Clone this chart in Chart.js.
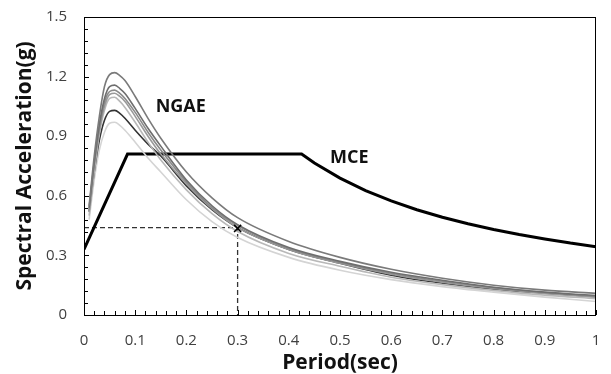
<!DOCTYPE html>
<html>
<head>
<meta charset="utf-8">
<script src="https://cdn.jsdelivr.net/npm/chart.js@4"></script>
<style>
body{margin:0;background:#fff}
#c{display:block}
</style>
</head>
<body>
<canvas id="c" width="611" height="374"></canvas>
<script>

// periods (sec) shared by the NGAE spectra
const periods=[0.01,0.02,0.03,0.04,0.05,0.06,0.07,0.08,0.1,0.125,0.15,0.2,0.25,0.3,0.4,0.5,0.6,0.7,0.8,0.9,1.0]

// NGAE spectra (g)
const ngae1=[0.55,0.80,1.00,1.15,1.21,1.22,1.205,1.18,1.10,0.99,0.89,0.72,0.59,0.49,0.37,0.29,0.23,0.185,0.15,0.125,0.109]
const ngae2=[0.54,0.77,0.96,1.09,1.15,1.157,1.14,1.115,1.04,0.94,0.85,0.68,0.55,0.455,0.34,0.27,0.215,0.175,0.14,0.115,0.098]
const ngae3=[0.53,0.76,0.94,1.07,1.125,1.132,1.115,1.09,1.02,0.92,0.83,0.67,0.54,0.45,0.335,0.265,0.21,0.17,0.138,0.113,0.095]
const ngae4=[0.52,0.75,0.93,1.05,1.11,1.116,1.10,1.075,1.0,0.90,0.81,0.66,0.535,0.44,0.33,0.26,0.205,0.165,0.133,0.108,0.09]
const ngae5=[0.50,0.72,0.91,1.03,1.09,1.096,1.075,1.045,0.97,0.87,0.78,0.63,0.51,0.42,0.31,0.245,0.19,0.153,0.124,0.1,0.082]
const ngae6=[0.52,0.72,0.88,0.98,1.025,1.03,1.015,0.99,0.93,0.86,0.80,0.65,0.53,0.44,0.33,0.26,0.20,0.16,0.13,0.11,0.092]
const ngae7=[0.48,0.68,0.83,0.92,0.965,0.97,0.955,0.93,0.87,0.79,0.72,0.58,0.47,0.39,0.29,0.225,0.178,0.143,0.115,0.09,0.068]

// MCE design spectrum
const mcePeriods=[0,0.085,0.425,0.45,0.5,0.55,0.6,0.65,0.7,0.75,0.8,0.85,0.9,0.95,1.0]
const mceValues=[0.33,0.81,0.81,0.765,0.689,0.626,0.574,0.53,0.492,0.459,0.43,0.405,0.383,0.362,0.344]

// target point at T=0.3 and its guide lines
const targetT=0.3
const targetSa=0.436
const guideX=[0,0.3,0.3]
const guideY=[0.44,0.44,0]

const xTicks=[0,0.1,0.2,0.3,0.4,0.5,0.6,0.7,0.8,0.9,1]
const yTicks=[0,0.3,0.6,0.9,1.2,1.5]

const ngaeSets=[ngae1,ngae2,ngae3,ngae4,ngae5,ngae6,ngae7]
const ngaeColors=["#7a7a7a","#6e6e6e","#8a8a8a","#9a9a9a","#b8b8b8","#333333","#d4d4d4"]

function pts(xs,ys){
return xs.map((x,i)=>({x:x,y:ys[i]}))
}

const datasets=[]

datasets.push({
data:[{x:targetT,y:targetSa}],
showLine:false,
pointStyle:"crossRot",
pointRadius:5,
borderColor:"#000",
borderWidth:1.5
})

ngaeSets.forEach((s,i)=>{
datasets.push({
data:pts(periods,s),
showLine:true,
borderColor:ngaeColors[i],
borderWidth:1.6,
pointRadius:0,
cubicInterpolationMode:"monotone"
})
})

datasets.push({
data:pts(mcePeriods,mceValues),
showLine:true,
borderColor:"#000",
borderWidth:3,
pointRadius:0,
tension:0
})

datasets.push({
data:pts(guideX,guideY),
showLine:true,
borderColor:"#333",
borderWidth:1.3,
borderDash:[5,3],
pointRadius:0,
tension:0
})

// frame, inward minor ticks and the two curve labels
const decor={
id:"decor",
afterDraw(chart){
const c=chart.ctx
const a=chart.chartArea
const xs=chart.scales.x
const ys=chart.scales.y
c.save()
c.strokeStyle="#000"
c.lineWidth=1
c.strokeRect(a.left+0.5,a.top+0.5,a.right-a.left-1,a.bottom-a.top)
c.beginPath()
for(let i=0;i<=50;i++){
const px=Math.round(xs.getPixelForValue(i*0.02))+0.5
const len=(i%5==0)?5:4
c.moveTo(px,a.bottom)
c.lineTo(px,a.bottom-len)
}
for(let i=0;i<=25;i++){
const py=Math.round(ys.getPixelForValue(i*0.06))+0.5
const len=(i%5==0)?5:4
c.moveTo(a.left,py)
c.lineTo(a.left+len,py)
}
c.stroke()
c.fillStyle="#111"
c.font="bold 18px 'Open Sans'"
c.textAlign="center"
c.textBaseline="middle"
c.fillText("NGAE",xs.getPixelForValue(0.189),ys.getPixelForValue(1.047))
c.fillText("MCE",xs.getPixelForValue(0.518),ys.getPixelForValue(0.79))
c.restore()
}
}

new Chart(document.getElementById("c"),{
type:"scatter",
data:{datasets:datasets},
options:{
responsive:false,
animation:false,
layout:{padding:{top:17,right:15,left:0,bottom:0}},
plugins:{legend:{display:false},tooltip:{enabled:false}},
scales:{
x:{
type:"linear",
min:0,
max:1,
afterBuildTicks:s=>{s.ticks=xTicks.map(v=>({value:v}))},
afterFit:s=>{s.height=59;s.paddingLeft=0;s.paddingRight=0},
grid:{display:false,drawTicks:false},
border:{display:false},
ticks:{
padding:17,
color:"#404040",
font:{family:"Open Sans",size:15},
callback:v=>String(+v.toFixed(1))
},
title:{
display:true,
text:"Period(sec)",
color:"#111",
font:{family:"Open Sans",size:21,weight:"bold",lineHeight:1},
padding:{top:0,bottom:0}
}
},
y:{
type:"linear",
min:0,
max:1.5,
afterBuildTicks:s=>{s.ticks=yTicks.map(v=>({value:v}))},
afterFit:s=>{s.width=84;s.paddingTop=0;s.paddingBottom=0},
grid:{display:false,drawTicks:false},
border:{display:false},
ticks:{
padding:17,
color:"#404040",
font:{family:"Open Sans",size:15},
callback:v=>String(+v.toFixed(1))
},
title:{
display:true,
text:"Spectral Acceleration(g)",
color:"#111",
font:{family:"Open Sans",size:21,weight:"bold",lineHeight:1},
padding:{top:15,bottom:0}
}
}
}
},
plugins:[decor]
})

</script>
</body>
</html>
